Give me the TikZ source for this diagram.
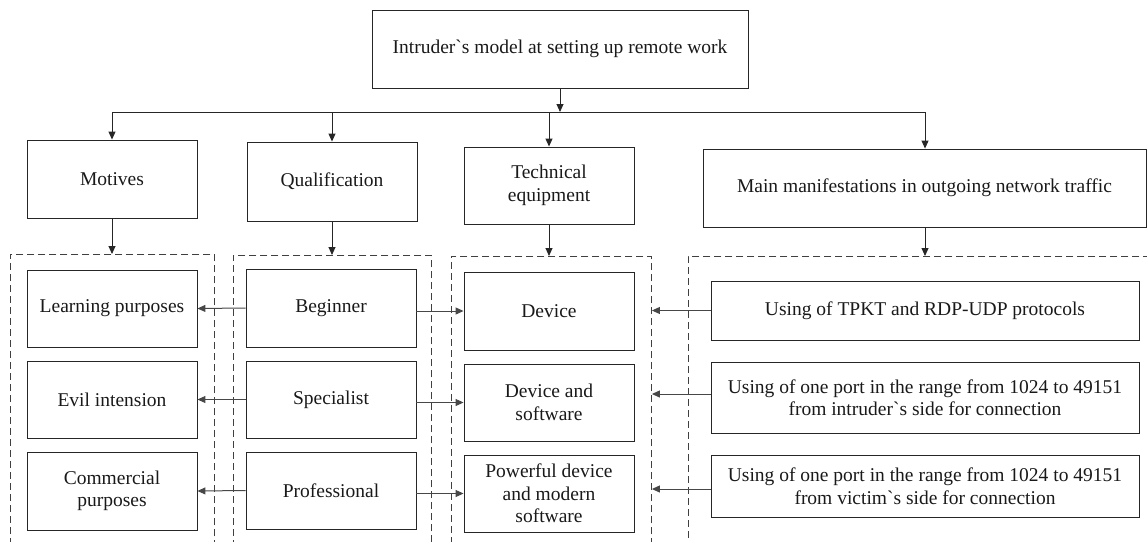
\documentclass[tikz,border=0pt]{standalone}
\usepackage{fontspec}
\setmainfont{Liberation Serif}[Ligatures=TeXOff]
\usetikzlibrary{arrows.meta}
\begin{document}
\begin{tikzpicture}[x=1pt,y=-1pt,
  font=\fontsize{19.5}{22.5}\selectfont,
  box/.style={draw=black!85, line width=0.9pt, align=center, inner sep=0pt, text=black!90},
  group/.style={draw=black!75, line width=0.9pt, dash pattern=on 7pt off 4pt, anchor=north west, inner sep=0pt},
  arr/.style={draw=black!85, line width=0.9pt, -{Triangle[length=8pt,width=7pt]}},
  harr/.style={draw=black!72, line width=1pt, -{Triangle[length=8pt,width=7pt]}}
]
\useasboundingbox (0,0) rectangle (1147,541);
\clip (0,0) rectangle (1147,541);

% root
\node[box, minimum width=376pt, minimum height=78pt] (root) at (560,49) {Intruder`s model at setting up remote work};

% category boxes
\node[box, minimum width=170pt, minimum height=78pt] (mot) at (112,179) {Motives};
\node[box, minimum width=170pt, minimum height=79pt] (qual) at (332,181.5) {Qualification};
\node[box, minimum width=170pt, minimum height=77pt] (tech) at (549,185.5) {Technical\\equipment};
\node[box, minimum width=443pt, minimum height=78pt] (main) at (924.5,188) {Main manifestations in outgoing network traffic};

% dashed groups (open at the bottom edge)
\node[group, minimum width=204pt, minimum height=320pt] (g1) at (10,254) {};
\node[group, minimum width=198pt, minimum height=320pt] (g2) at (233,255) {};
\node[group, minimum width=200pt, minimum height=320pt] (g3) at (451,256) {};
\node[group, minimum width=500pt, minimum height=320pt] (g4) at (688,256) {};

% motives
\node[box, minimum width=170pt, minimum height=77pt] (learn) at (112,308.5) {Learning purposes};
\node[box, minimum width=170pt, minimum height=77pt] (evil) at (112,399.5) {Evil intension};
\node[box, minimum width=170pt, minimum height=78pt] (comm) at (112,491) {Commercial\\purposes};

% qualification
\node[box, minimum width=170pt, minimum height=78pt] (beg) at (331,308) {Beginner};
\node[box, minimum width=170pt, minimum height=77pt] (spec) at (331,399.5) {Specialist};
\node[box, minimum width=170pt, minimum height=77pt] (prof) at (331,490.5) {Professional};

% technical equipment
\node[box, minimum width=170pt, minimum height=78pt] (dev) at (549,311) {Device};
\node[box, minimum width=170pt, minimum height=77pt] (devsw) at (549,402.5) {Device and\\software};
\node[box, minimum width=170pt, minimum height=77pt] (pow) at (549,493.5) {Powerful device\\and modern\\software};

% traffic manifestations
\node[box, minimum width=428pt, minimum height=59pt] (tpkt) at (925,310.5) {Using of TPKT and RDP-UDP protocols};
\node[box, minimum width=428pt, minimum height=71pt] (pin) at (925,397.5) {Using of one port in the range from 1024 to 49151\\from intruder`s side for connection};
\node[box, minimum width=428pt, minimum height=62pt] (pvic) at (925,486) {Using of one port in the range from 1024 to 49151\\from victim`s side for connection};

% distribution bus
\coordinate (busL) at (112,112);
\coordinate (busR) at (925,112);
\draw[draw=black!85, line width=0.9pt] (busL) -- (busR);
\draw[arr] (root.south) -- (root.south |- busL);
\draw[arr] (busL) -- (mot.north);
\draw[arr] (qual.north |- busL) -- (qual.north);
\draw[arr] (tech.north |- busL) -- (tech.north);
\draw[arr] (busR) -- (busR |- main.north);

% into the groups
\draw[arr] (mot.south) -- (mot.south |- g1.north);
\draw[arr] (qual.south) -- (qual.south |- g2.north);
\draw[arr] (tech.south) -- (tech.south |- g3.north);
\draw[arr] (busR |- main.south) -- (busR |- g4.north);

% qualification to motives
\draw[harr] (beg.west) -- (learn.east);
\draw[harr] (spec.west) -- (evil.east);
\draw[harr] (prof.west) -- (comm.east);

% qualification to equipment
\draw[harr] (beg.east |- dev.west) -- (dev.west);
\draw[harr] (spec.east |- devsw.west) -- (devsw.west);
\draw[harr] (prof.east |- pow.west) -- (pow.west);

% traffic to equipment group
\draw[harr] (tpkt.west) -- (tpkt.west -| g3.east);
\draw[harr] ([yshift=3.5pt]pin.west) -- ([yshift=3.5pt]pin.west -| g3.east);
\draw[harr] ([yshift=-3pt]pvic.west) -- ([yshift=-3pt]pvic.west -| g3.east);
\end{tikzpicture}
\end{document}
